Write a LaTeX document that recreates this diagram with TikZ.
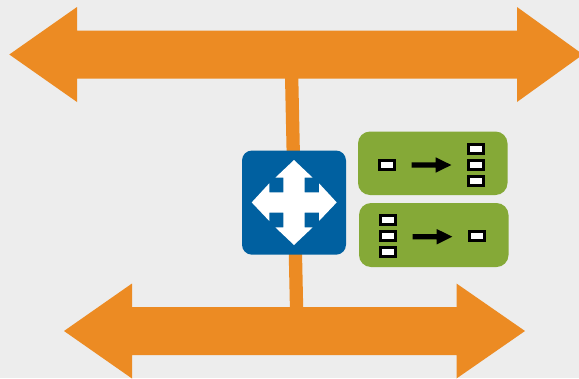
\documentclass[tikz,border=0pt]{standalone}
\definecolor{bgc}{HTML}{EDEDED}
\definecolor{orangec}{HTML}{EC8B23}
\definecolor{greenc}{HTML}{85A937}
\definecolor{bluec}{HTML}{0060A0}
\tikzset{
  busarrow/.style={fill=orangec,draw=none},
  panel/.style={fill=greenc,draw=none,rounded corners=12pt},
  switchbox/.style={fill=bluec,draw=none,rounded corners=10pt},
  port/.style={fill=white,draw=black,line width=3pt},
  flow/.style={fill=black,draw=none}
}
\newcommand{\portbox}[2]{\draw[port] (#1+1.5,#2+1.5) rectangle (#1+16.5,#2+10.5);}
\newcommand{\flowarrow}[2]{\fill[flow] (#1,#2-2.7) -- (#1+24,#2-2.7) -- (#1+24,#2-7.7) -- (#1+39.6,#2) -- (#1+24,#2+7.7) -- (#1+24,#2+2.7) -- (#1,#2+2.7) -- cycle;}
\begin{document}
\begin{tikzpicture}[x=1pt,y=-1pt]
\useasboundingbox (0,0) rectangle (579,378);
\fill[bgc] (0,0) rectangle (579,378);
\begin{scope}
\clip (0,0) rectangle (579,378);
% connector behind everything
\coordinate (bustop) at (291.5,70);
\coordinate (busbot) at (296.7,315);
\draw[orangec,line width=13.3pt] (bustop) -- (busbot);
% buses
\fill[busarrow] (9.3,54.5) -- (77,7) -- (77,30.5) -- (517,30.5) -- (517,7) -- (583,54.5) -- (517,102) -- (517,78.5) -- (77,78.5) -- (77,102) -- cycle;
\fill[busarrow] (64,331) -- (132,283.5) -- (132,307) -- (456.5,307) -- (456.5,283.5) -- (525,331) -- (456.5,378.5) -- (456.5,355) -- (132,355) -- (132,378.5) -- cycle;
\end{scope}
% switch
\fill[switchbox] (242,150.5) rectangle (346,254.7);
\fill[white] (294,160) -- (312.7,177.7) -- (304.7,177.7) -- (304.7,192.3) -- (319,192.3) -- (319,183.3) -- (336.7,202.4) -- (319,221) -- (319,212.7) -- (304.7,212.7) -- (304.7,227.3) -- (312.7,227.3) -- (294,245) -- (275.3,227.3) -- (283.3,227.3) -- (283.3,212.7) -- (269.3,212.7) -- (269.3,221) -- (251.7,202.4) -- (269.3,183.3) -- (269.3,192.3) -- (283.3,192.3) -- (283.3,177.7) -- (275.3,177.7) -- cycle;
% panels
\fill[panel] (358,131.5) rectangle (507.5,195);
\fill[panel] (359,203) rectangle (508.5,267);
% top panel
\portbox{378.3}{158.7}
\flowarrow{411.7}{165}
\portbox{467}{142.7}
\portbox{467}{158.7}
\portbox{467}{174.7}
% bottom panel
\portbox{379}{214.3}
\portbox{379}{230.3}
\portbox{379}{246}
\flowarrow{412.7}{236.7}
\portbox{468}{230.3}
\end{tikzpicture}
\end{document}
